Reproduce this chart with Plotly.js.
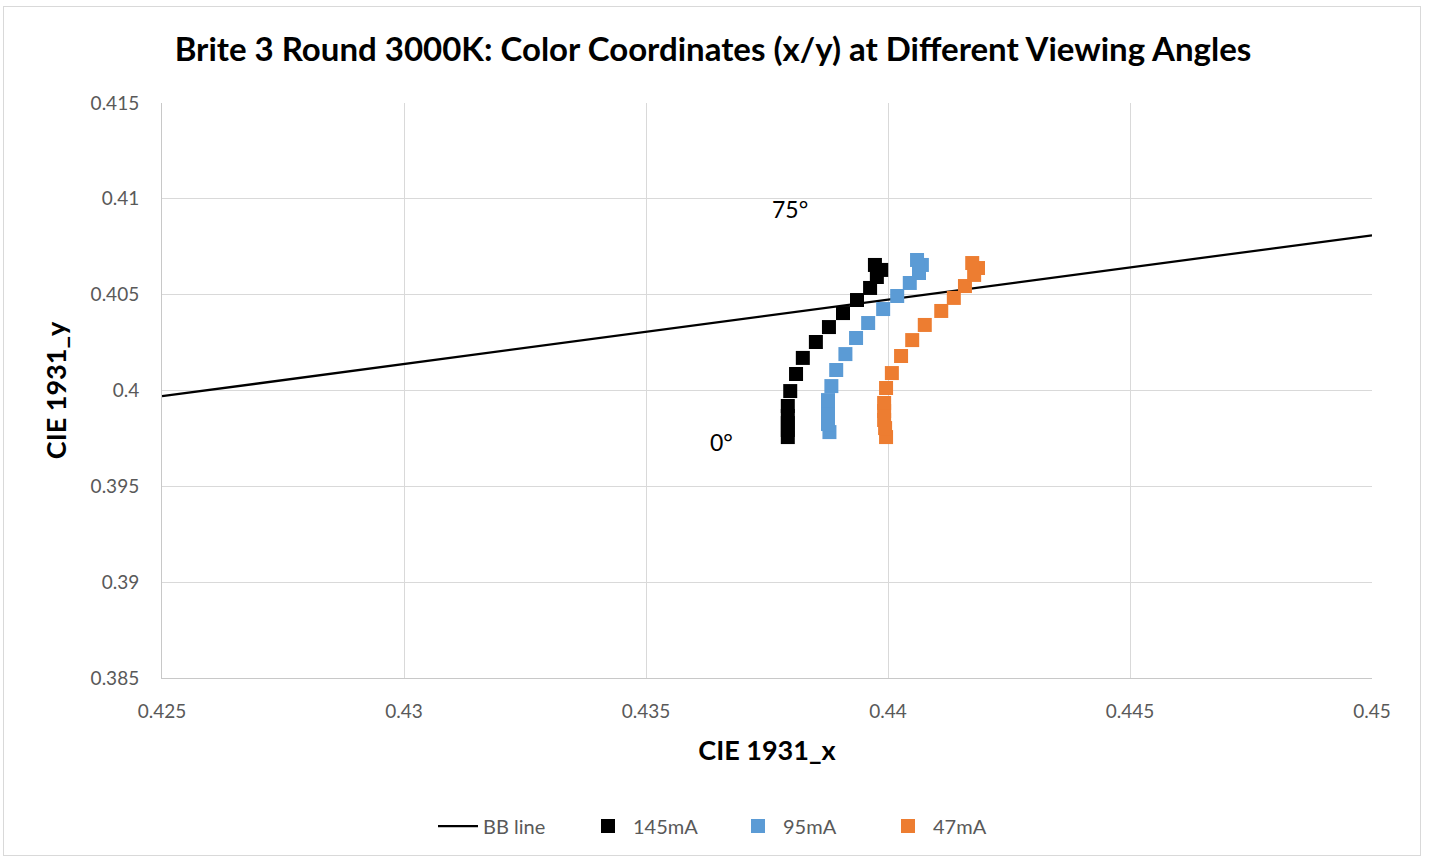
<!DOCTYPE html>
<html>
<head>
<meta charset="utf-8">
<script src="https://cdn.plot.ly/plotly-3.0.1.min.js"></script>
<style>
  html, body { margin: 0; padding: 0; background: #fff; }
  #frame { position: absolute; left: 3px; top: 6px; width: 1418px; height: 850px; border: 1px solid #d9d9d9; box-sizing: border-box; pointer-events: none; z-index: 5; }
  #chart { position: absolute; left: 0; top: 0; width: 1431px; height: 860px; }
</style>
</head>
<body>
<div id="chart"></div>
<div id="frame"></div>
<script>
// Black-body (BB) line endpoints
const bbX = [0.425, 0.45];
const bbY = [0.3997, 0.4081];

// 145mA (0° .. 75°, 5° steps)
const x145 = [0.43793, 0.43793, 0.43793, 0.43793, 0.43793, 0.43798, 0.43810, 0.43824, 0.43851, 0.43878, 0.43907, 0.43936, 0.43963, 0.43977, 0.43986, 0.43973];
const y145 = [0.39757, 0.39794, 0.39830, 0.39867, 0.39919, 0.39997, 0.40086, 0.40170, 0.40253, 0.40331, 0.40404, 0.40472, 0.40535, 0.40592, 0.40629, 0.40655];

// 95mA
const x95 = [0.43879, 0.43876, 0.43876, 0.43876, 0.43876, 0.43883, 0.43893, 0.43912, 0.43934, 0.43959, 0.43990, 0.44019, 0.44045, 0.44064, 0.44070, 0.44060];
const y95 = [0.39783, 0.39825, 0.39867, 0.39909, 0.39950, 0.40023, 0.40107, 0.40190, 0.40274, 0.40352, 0.40425, 0.40493, 0.40561, 0.40613, 0.40655, 0.40681];

// 47mA
const x47 = [0.43996, 0.43994, 0.43992, 0.43992, 0.43992, 0.43996, 0.44008, 0.44027, 0.44050, 0.44076, 0.44110, 0.44136, 0.44159, 0.44178, 0.44186, 0.44174];
const y47 = [0.39757, 0.39804, 0.39846, 0.39893, 0.39935, 0.40013, 0.40091, 0.40180, 0.40263, 0.40342, 0.40415, 0.40483, 0.40545, 0.40603, 0.40639, 0.40665];

const seriesNames = ["BB line", "145mA", "95mA", "47mA"];

const xTickVals = [0.425, 0.43, 0.435, 0.44, 0.445, 0.45];
const xTickText = ["0.425", "0.43", "0.435", "0.44", "0.445", "0.45"];
const yTickVals = [0.385, 0.39, 0.395, 0.4, 0.405, 0.41, 0.415];
const yTickText = ["0.385", "0.39", "0.395", "0.4", "0.405", "0.41", "0.415"];

const angleLabels = ["75°", "0°"];
const angleLabelX = [0.43798, 0.43657];
const angleLabelY = [0.40947, 0.39731];

const FONT = "Lato, 'Open Sans', sans-serif";

const traces = [
  { x: bbX, y: bbY, name: seriesNames[0], mode: "lines", type: "scatter",
    line: { color: "#000000", width: 2.25 } },
  { x: x145, y: y145, name: seriesNames[1], mode: "markers", type: "scatter",
    marker: { symbol: "square", size: 14, color: "#000000" } },
  { x: x95, y: y95, name: seriesNames[2], mode: "markers", type: "scatter",
    marker: { symbol: "square", size: 14, color: "#5b9bd5" } },
  { x: x47, y: y47, name: seriesNames[3], mode: "markers", type: "scatter",
    marker: { symbol: "square", size: 14, color: "#ed7d31" } }
];

const layout = {
  width: 1431, height: 860,
  paper_bgcolor: "#ffffff", plot_bgcolor: "#ffffff",
  margin: { l: 162, r: 59, t: 103, b: 182 },
  font: { family: FONT, color: "#595959", size: 18 },
  title: { text: "Brite 3 Round 3000K: Color Coordinates (x/y) at Different Viewing Angles",
    font: { family: FONT, size: 33, color: "#000000", weight: "bold" },
    x: 713/1431, xref: "container", xanchor: "center", y: 1 - 49/860, yref: "container", yanchor: "middle" },
  xaxis: {
    range: [0.425, 0.45], tickvals: xTickVals, ticktext: xTickText,
    showgrid: true, gridcolor: "#d9d9d9", gridwidth: 1,
    showline: true, linecolor: "#c8c8c8", linewidth: 1, mirror: false,
    zeroline: false, ticks: "", ticklabelstandoff: 16,
    tickfont: { family: FONT, size: 19, color: "#595959" },
    title: { text: "CIE 1931_x", standoff: 20,
      font: { family: FONT, size: 27, color: "#000000", weight: "bold" } }
  },
  yaxis: {
    range: [0.385, 0.415], tickvals: yTickVals, ticktext: yTickText,
    showgrid: true, gridcolor: "#d9d9d9", gridwidth: 1,
    showline: true, linecolor: "#c8c8c8", linewidth: 1, mirror: false,
    zeroline: false, ticks: "", ticklabelstandoff: 18,
    tickfont: { family: FONT, size: 19, color: "#595959" },
    title: { text: "CIE 1931_y", standoff: 16,
      font: { family: FONT, size: 27, color: "#000000", weight: "bold" } }
  },
  legend: { orientation: "h", x: 433/1431, xanchor: "left", xref: "container",
    y: 1 - 826/860, yref: "container", yanchor: "middle",
    font: { family: FONT, size: 20, color: "#595959" },
    itemwidth: 40, entrywidth: 95, entrywidthmode: "pixels", tracegroupgap: 0 },
  annotations: angleLabels.map((t, i) => ({
    x: angleLabelX[i], y: angleLabelY[i], xref: "x", yref: "y",
    text: t, showarrow: false,
    font: { family: FONT, size: 23, color: "#000000" }
  })),
  showlegend: true
};

Plotly.newPlot("chart", traces, layout, { displayModeBar: false, staticPlot: true });
</script>
</body>
</html>
